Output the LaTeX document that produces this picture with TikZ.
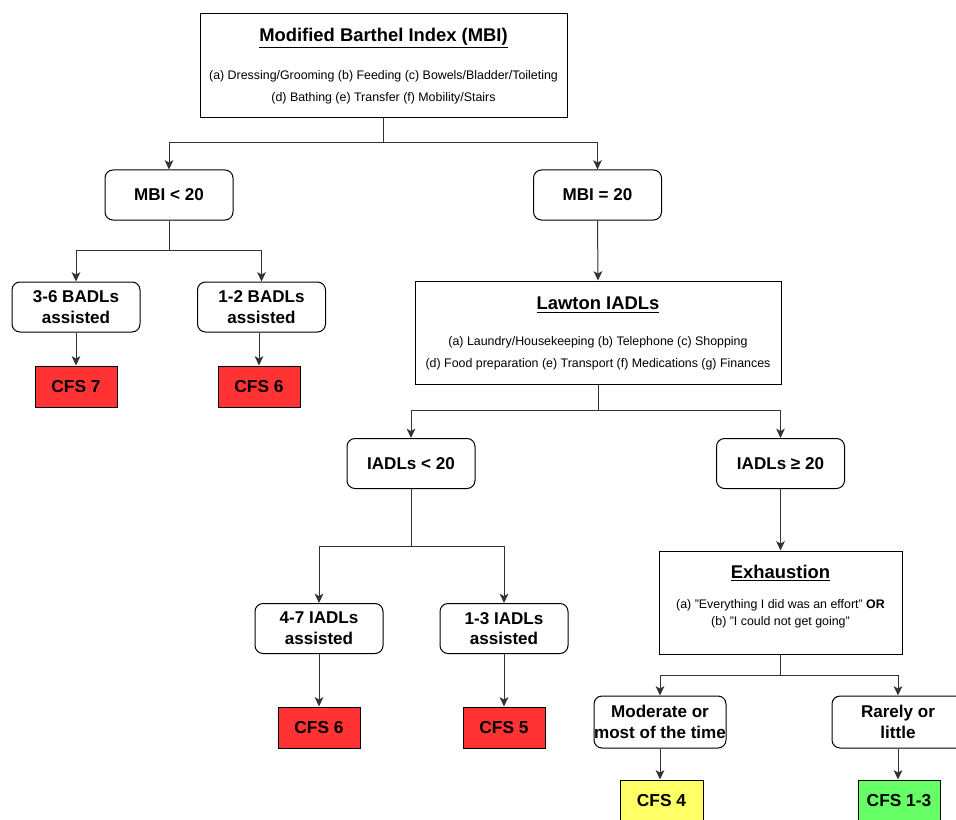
\documentclass[tikz,border=0pt]{standalone}
\usepackage{fontspec}
\setmainfont{Liberation Sans}
\usetikzlibrary{arrows.meta}
\definecolor{cfsred}{HTML}{FF3333}
\definecolor{cfsyellow}{HTML}{FFFF66}
\definecolor{cfsgreen}{HTML}{66FF66}
\definecolor{linegray}{HTML}{333333}
\tikzset{
  rbox/.style={draw=black, line width=0.75pt, rounded corners=6pt, fill=white, align=center,
    minimum width=96pt, minimum height=37.5pt, inner sep=0pt,
    font=\fontsize{12.8pt}{15.5pt}\selectfont\bfseries},
  bigbox/.style={draw=black, line width=0.75pt, fill=white, inner sep=0pt},
  cfsbox/.style={draw=black, line width=0.75pt, minimum width=61.5pt, minimum height=30.75pt,
    inner sep=0pt, font=\fontsize{13pt}{16pt}\selectfont\bfseries},
  title/.style={font=\fontsize{13.8pt}{16pt}\selectfont\bfseries, inner sep=0pt},
  body/.style={font=\fontsize{9.3pt}{16.5pt}\selectfont, align=center, inner sep=0pt},
  arr/.style={draw=linegray, line width=0.75pt, -{Stealth[length=7pt,width=6.5pt,inset=1.8pt]}},
}
\begin{document}
\begin{tikzpicture}[x=0.75pt,y=-0.75pt]
\useasboundingbox (0,0) rectangle (956,820);
\clip (0,0) rectangle (956,820);
% top box
\node[bigbox, minimum width=275.25pt, minimum height=78pt] (mbi) at (383.5,66) {};
\node[title] (mbititle) at (383.5,38.5) {\underline{Modified Barthel Index (MBI)}};
\node[body] (mbibody) at (383.5,87.5) {(a) Dressing/Grooming (b) Feeding (c) Bowels/Bladder/Toileting\\(d) Bathing (e) Transfer (f) Mobility/Stairs};
% level 2
\node[rbox] (lt) at (169,195) {MBI < 20};
\node[rbox] (eq) at (597.5,195) {MBI = 20};
% BADL
\node[rbox] (b36) at (76,307) {3-6 BADLs\\assisted};
\node[rbox] (b12) at (261.5,307) {1-2 BADLs\\assisted};
\node[cfsbox, fill=cfsred] (c7) at (76,386.5) {CFS 7};
\node[cfsbox, fill=cfsred] (c6a) at (259,386.5) {CFS 6};
% Lawton
\node[bigbox, minimum width=274.5pt, minimum height=77.25pt] (law) at (598,332.5) {};
\node[title] (lawtitle) at (598,305) {\underline{Lawton IADLs}};
\node[body] (lawbody) at (598,353.5) {(a) Laundry/Housekeeping (b) Telephone (c) Shopping\\(d) Food preparation (e) Transport (f) Medications (g) Finances};
% IADL level
\node[rbox] (ilt) at (411,463.5) {IADLs < 20};
\node[rbox] (ige) at (780.5,463.5) {IADLs ≥ 20};
\node[rbox] (i47) at (319,628.5) {4-7 IADLs\\assisted};
\node[rbox] (i13) at (504,628.5) {1-3 IADLs\\assisted};
\node[cfsbox, fill=cfsred] (c6b) at (319,727.5) {CFS 6};
\node[cfsbox, fill=cfsred] (c5) at (504,727.5) {CFS 5};
% Exhaustion
\node[bigbox, minimum width=182.25pt, minimum height=77.25pt] (exh) at (780.5,602.5) {};
\node[title] (exhtitle) at (780.5,573) {\underline{Exhaustion}};
\node[body, font=\fontsize{9.3pt}{12.75pt}\selectfont] (exhbody) at (780.5,614) {(a) "Everything I did was an effort" \textbf{OR}\\(b) "I could not get going"};
\node[rbox, minimum width=99pt, minimum height=39pt] (mod) at (660,722) {Moderate or\\most of the time};
\node[rbox, minimum width=99pt, minimum height=39pt] (rar) at (898,722) {Rarely or\\little};
\node[cfsbox, fill=cfsyellow, minimum width=62.25pt] (c4) at (661.5,800.5) {CFS 4};
\node[cfsbox, fill=cfsgreen] (c13) at (899,800.5) {CFS 1-3};
% branch points
\coordinate (j1) at (383.5,143);
\coordinate (j2) at (169,250);
\coordinate (j3) at (598,410);
\coordinate (j4) at (411,546);
\coordinate (j5) at (780.5,675);
% connectors
\draw[arr] (mbi.south) -- (j1) -| (lt.north);
\draw[arr] (j1) -| (eq.north);
\draw[arr] (lt.south) -- (j2) -| (b36.north);
\draw[arr] (j2) -| (b12.north);
\draw[arr] (b36.south) -- (c7.north);
\draw[arr] (b12.south -| c6a.north) -- (c6a.north);
\draw[arr] (eq.south) -- (law.north);
\draw[arr] (law.south) -- (j3) -| (ilt.north);
\draw[arr] (j3) -| (ige.north);
\draw[arr] (ilt.south) -- (j4) -| (i47.north);
\draw[arr] (j4) -| (i13.north);
\draw[arr] (i47.south) -- (c6b.north);
\draw[arr] (i13.south) -- (c5.north);
\draw[arr] (ige.south) -- (exh.north);
\draw[arr] (exh.south) -- (j5) -| (mod.north);
\draw[arr] (j5) -| (rar.north);
\draw[arr] (mod.south) -- (mod.south |- c4.north);
\draw[arr] (rar.south) -- (rar.south |- c13.north);
\end{tikzpicture}
\end{document}
